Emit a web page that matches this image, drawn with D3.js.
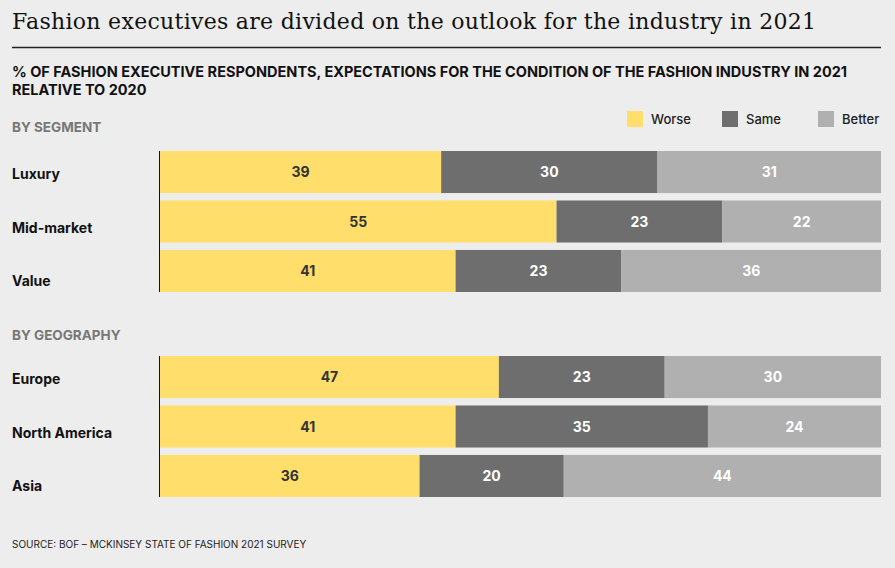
<!DOCTYPE html>
<html lang="en">
<head>
<meta charset="UTF-8">
<title>Fashion outlook 2021</title>
<style>
    body { margin: 0; background: #ededed; }
    svg { font-family: "Inter", "Noto Sans", sans-serif; }
</style>
</head>
<body>
<div id="chart"></div>
<script src="https://cdnjs.cloudflare.com/ajax/libs/d3/7.8.5/d3.min.js"></script>
<script>
    // data
    var segments = ['Luxury', 'Mid-market', 'Value'];
    var segmentValues = [[39, 30, 31], [55, 23, 22], [41, 23, 36]];
    var regions = ['Europe', 'North America', 'Asia'];
    var regionValues = [[47, 23, 30], [41, 35, 24], [36, 20, 44]];
    var seriesNames = ['Worse', 'Same', 'Better'];
    var colors = ['#ffde6b', '#6e6e6e', '#b0b0b0'];
    var textColors = ['#333', '#fff', '#fff'];

    var W = 895, H = 568;
    var svg = d3.select('#chart').append('svg').attr('width', W).attr('height', H);

    svg.append('text').attr('x', 12).attr('y', 29)
        .style('font-family', '"DejaVu Serif", "Liberation Serif", serif')
        .style('font-size', '22px').attr('textLength', 804).attr('fill', '#111')
        .text('Fashion executives are divided on the outlook for the industry in 2021');
    svg.append('line').attr('x1', 12).attr('x2', 881).attr('y1', 47.5).attr('y2', 47.5)
        .attr('stroke', '#222').attr('stroke-width', 1.5);

    svg.selectAll('.sub').data(['% OF FASHION EXECUTIVE RESPONDENTS, EXPECTATIONS FOR THE CONDITION OF THE FASHION INDUSTRY IN 2021', 'RELATIVE TO 2020'])
        .join('text').attr('x', 12).attr('y', function (d, i) { return 77 + i * 18; })
        .style('font-size', '14.5px').style('font-weight', 700).attr('fill', '#111').text(function (d) { return d; });

    // legend
    var legendX = [627, 722, 818];
    seriesNames.forEach(function (n, i) {
        svg.append('rect').attr('x', legendX[i]).attr('y', 111).attr('width', 16).attr('height', 16).attr('fill', colors[i]);
        svg.append('text').attr('x', legendX[i] + 24).attr('y', 124).style('font-size', '13px')
            .style('font-weight', 500).attr('fill', '#222').text(n);
    });

    var x = d3.scaleLinear().domain([0, 100]).range([160, 881]);

    function group(title, titleY, cats, values, top) {
        svg.append('text').attr('x', 12).attr('y', titleY).style('font-size', '13.5px')
            .style('font-weight', 700).attr('fill', '#777').text(title);
        var y = d3.scaleBand().domain(cats).range([top, top + 141]).paddingInner(0.15).paddingOuter(0);
        var g = svg.append('g');
        cats.forEach(function (c, ci) {
            var stack = d3.cumsum(values[ci]);
            values[ci].forEach(function (v, si) {
                var x0 = x(stack[si] - v), x1 = x(stack[si]);
                g.append('rect').attr('x', x0).attr('y', y(c)).attr('width', x1 - x0)
                    .attr('height', y.bandwidth()).attr('fill', colors[si]);
                g.append('text').attr('x', (x0 + x1) / 2).attr('y', y(c) + y.bandwidth() / 2 + 5)
                    .attr('text-anchor', 'middle').style('font-size', '14px').style('font-weight', 700)
                    .attr('fill', textColors[si]).text(v);
            });
            g.append('text').attr('x', 12).attr('y', y(c) + y.bandwidth() / 2 + 7 + ci * 4)
                .style('font-size', '14px').style('font-weight', 700).attr('fill', '#111').text(c);
        });
        g.append('line').attr('x1', 159.5).attr('x2', 159.5).attr('y1', top).attr('y2', top + 141)
            .attr('stroke', '#111');
    }

    group('BY SEGMENT', 132, segments, segmentValues, 151);
    group('BY GEOGRAPHY', 340, regions, regionValues, 356);

    svg.append('text').attr('x', 12).attr('y', 548).style('font-size', '10px').attr('fill', '#222')
        .text('SOURCE: BOF – MCKINSEY STATE OF FASHION 2021 SURVEY');
</script>
</body>
</html>
